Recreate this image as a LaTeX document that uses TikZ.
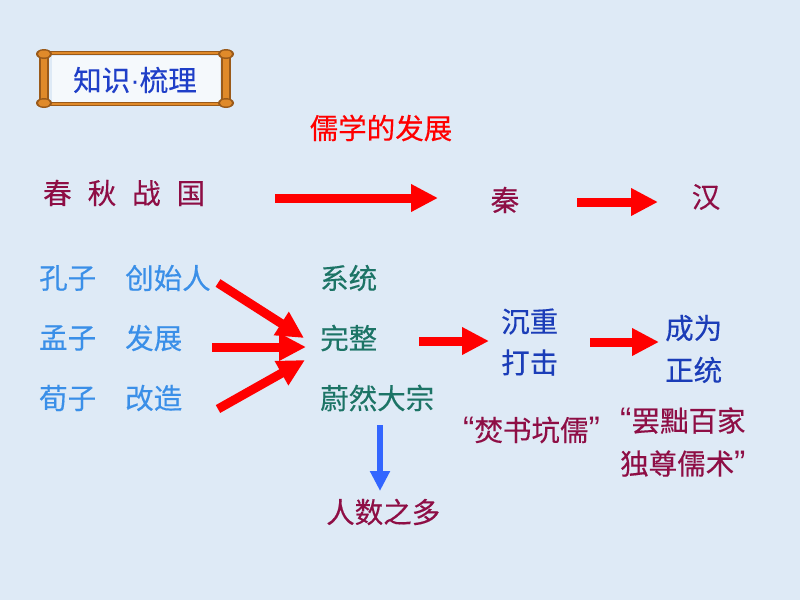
\documentclass[tikz,border=0pt]{standalone}
\usepackage{fontspec}
\newfontfamily\cjk[FakeBold=0.35]{Noto Sans CJK SC}
\newfontfamily\lat{Liberation Sans}
\usetikzlibrary{arrows.meta}
\definecolor{bgc}{HTML}{DEEAF6}
\definecolor{maroon}{HTML}{8E0E45}
\definecolor{lblue}{HTML}{3A8FE8}
\definecolor{teal2}{HTML}{1C7466}
\definecolor{dblue}{HTML}{1B3DB8}
\definecolor{tblue}{HTML}{1F3FC8}
\definecolor{arrred}{HTML}{FF0000}
\definecolor{arrblue}{HTML}{3366FF}
\definecolor{frameor}{HTML}{E08A2A}
\definecolor{framedk}{HTML}{9A5A1A}
\newcommand{\myLQ}{{\lat\fontsize{34}{34}\selectfont “}}
\newcommand{\myRQ}{{\lat\fontsize{34}{34}\selectfont ”}}
\tikzset{
  txt/.style={inner sep=0pt, anchor=west, font=\cjk\fontsize{28.5}{32}\selectfont},
  bigarrow/.style={draw=arrred, line width=9pt, -{Triangle[width=26pt,length=27pt]}},
  bluearrow/.style={draw=arrblue, line width=6pt, -{Triangle[width=19pt,length=20pt]}},
}
\begin{document}
\begin{tikzpicture}[x=1pt,y=-1pt]
\fill[bgc] (0,0) rectangle (800,600);
\useasboundingbox (0,0) rectangle (800,600);
% banner frame
\fill[white!70!bgc] (52,56) rectangle (220,102);
\draw[framedk, line width=4.5pt] (50,53) -- (222,53);
\draw[frameor, line width=2.5pt] (50,53) -- (222,53);
\draw[framedk, line width=4.5pt] (50,104) -- (222,104);
\draw[frameor, line width=2.5pt] (50,104) -- (222,104);
\fill[framedk] (39,57) rectangle (49,101);
\fill[frameor] (41,57) rectangle (47,101);
\fill[framedk] (221,57) rectangle (231,101);
\fill[frameor] (223,57) rectangle (229,101);
\foreach \px/\py in {44/54,44/103,226/54,226/103}{
  \fill[framedk] (\px,\py) ellipse (8 and 5);
  \fill[frameor] (\px,\py) ellipse (6 and 3.5);
}
\node[txt, anchor=center, text=tblue] (title) at (135,80) {知识{\lat ·}梳理};
% heading
\node[txt, anchor=center, text=arrred] (head) at (381,128) {儒学的发展};
% top row
\node[txt, text=maroon] (cqzg) at (43,193) {春\hspace{16pt}秋\hspace{16pt}战\hspace{16pt}国};
\node[txt, anchor=center, text=maroon] (qin) at (505,200) {秦};
\node[txt, anchor=center, text=maroon] (han) at (706,197) {汉};
\coordinate (a1s) at (275,198);
\coordinate (a1e) at (438,198);
\coordinate (a2s) at (577,202);
\coordinate (a2e) at (658,202);
\draw[bigarrow] (a1s) -- (a1e);
\draw[bigarrow] (a2s) -- (a2e);
% left column
\node[txt, text=lblue] (kz) at (39,278) {孔子};
\node[txt, text=lblue] (kzr) at (125,278) {创始人};
\node[txt, text=lblue] (mz) at (39,338) {孟子};
\node[txt, text=lblue] (mzr) at (125,338) {发展};
\node[txt, text=lblue] (xz) at (39,398) {荀子};
\node[txt, text=lblue] (xzr) at (125,398) {改造};
% green column
\node[txt, text=teal2] (xt) at (320,278) {系统};
\node[txt, text=teal2] (wz) at (320,338) {完整};
\node[txt, text=teal2] (wr) at (320,398) {蔚然大宗};
\coordinate (b1s) at (218,283);
\coordinate (b1e) at (304,338);
\coordinate (b2s) at (212,347);
\coordinate (b2e) at (306,347);
\coordinate (b3s) at (218,409);
\coordinate (b3e) at (305,360);
\draw[bigarrow] (b1s) -- (b1e);
\draw[bigarrow] (b2s) -- (b2e);
\draw[bigarrow] (b3s) -- (b3e);
% middle
\node[txt, text=dblue, align=left, font=\cjk\fontsize{28.5}{41}\selectfont] (czdj) at (501,342) {沉重\\打击};
\node[txt, text=dblue, align=left, font=\cjk\fontsize{28.5}{42}\selectfont] (cwzt) at (665,349) {成为\\正统};
\coordinate (c1s) at (419,341);
\coordinate (c1e) at (489,341);
\coordinate (c2s) at (590,342);
\coordinate (c2e) at (659,342);
\draw[bigarrow] (c1s) -- (c1e);
\draw[bigarrow] (c2s) -- (c2e);
% quotes
\node[txt, text=maroon] (fs) at (463,430) {\myLQ 焚书坑儒\myRQ};
\node[txt, text=maroon, align=left, font=\cjk\fontsize{28.5}{43}\selectfont] (bc) at (620,442) {\myLQ 罢黜百家\\独尊儒术\myRQ};
% blue arrow
\node[txt, text=maroon] (rs) at (326,512) {人数之多};
\coordinate (d1s) at (380,425);
\coordinate (d1e) at (380,491);
\draw[bluearrow] (d1s) -- (d1e);
\end{tikzpicture}
\end{document}
